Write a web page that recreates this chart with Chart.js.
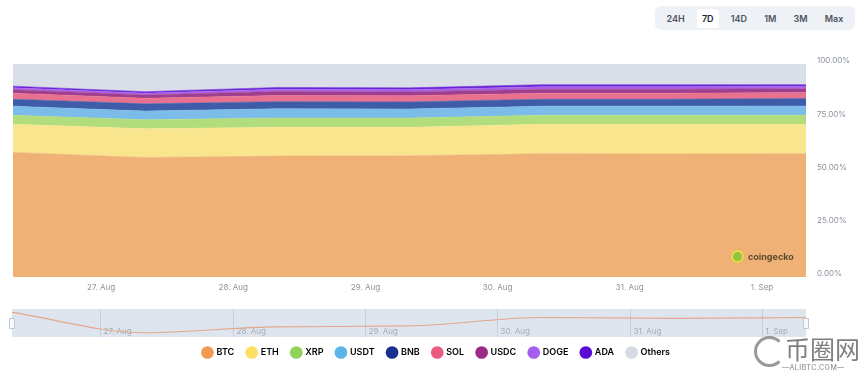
<!DOCTYPE html>
<html>
<head>
<meta charset="utf-8">
<script src="https://cdn.jsdelivr.net/npm/chart.js@4.4.1/dist/chart.umd.min.js"></script>
<style>
    html, body { margin: 0; padding: 0; background: #fff; }
    body { width: 860px; height: 373px; position: relative; overflow: hidden; font-family: Inter, "Noto Sans", sans-serif; }
    #main-wrap { position: absolute; left: 0; top: 0; width: 860px; height: 373px; }
    #nav-wrap { position: absolute; left: 0; top: 306px; width: 860px; height: 34px; }
    .ranges { position: absolute; left: 655px; top: 6px; width: 200px; height: 24px; background: #eef1f5; border-radius: 6px; display: flex; align-items: center; justify-content: space-around; padding: 0 3px; box-sizing: border-box; }
    .ranges span { font-size: 9px; font-weight: 600; color: #4b5160; padding: 4px 5px; border-radius: 4px; }
    .ranges span.on { background: #fff; color: #22252c; }
    .gecko { position: absolute; left: 731px; top: 250px; display: flex; align-items: center; gap: 4px; font-size: 9px; font-weight: 700; color: #5a4a2e; }
    .gecko i { width: 13px; height: 13px; border-radius: 50%; background: #8dc63f; box-shadow: 0 0 0 2px #f5d74a inset; display: block; }
    .mark { position: absolute; left: 754px; top: 334px; color: rgba(95,95,95,0.8); }
    .mark .ring { position: absolute; left: 0; top: 2px; width: 31px; height: 31px; border: 3px solid rgba(110,110,110,0.7); border-right-color: transparent; border-radius: 50%; box-sizing: border-box; }
    .mark .cn { position: absolute; left: 31px; top: -1px; font-family: "Noto Sans CJK SC"; font-size: 25px; line-height: 30px; white-space: nowrap; }
    .mark .en { position: absolute; left: 28px; top: 29px; font-size: 7px; white-space: nowrap; letter-spacing: 0.5px; }
</style>
</head>
<body>
<div id="main-wrap"><canvas id="dominance-chart"></canvas></div>
<div id="nav-wrap"><canvas id="navigator-chart"></canvas></div>
<div class="ranges"><span>24H</span><span class="on">7D</span><span>14D</span><span>1M</span><span>3M</span><span>Max</span></div>
<div class="gecko"><i></i>coingecko</div>
<div class="mark"><div class="ring"></div><div class="cn">币圈网</div><div class="en">—ALIBTC.COM—</div></div>
<script>
// hours counted from 26 Aug 00:00
const pointHours = [8, 32, 56, 80, 104, 128, 152];
const tickHours = [24, 48, 72, 96, 120, 144];
const tickLabels = ['27. Aug', '28. Aug', '29. Aug', '30. Aug', '31. Aug', '1. Sep'];
const yTicks = [0, 25, 50, 75, 100];

// market share in %
const btc = [58.5, 56.1, 56.8, 56.9, 57.9, 57.8, 57.9];
const eth = [13.2, 13.5, 13.5, 13.4, 13.8, 13.9, 13.8];
const xrp = [4.2, 4.2, 4.4, 4.3, 4.2, 4.2, 4.2];
const usdt = [4.3, 4.1, 4.3, 4.3, 4.3, 4.3, 4.4];
const bnb = [3.3, 3.4, 3.3, 3.3, 3.3, 3.3, 3.5];
const sol = [2.8, 2.6, 2.9, 2.9, 2.8, 2.8, 2.8];
const usdc = [1.6, 1.6, 1.9, 1.8, 1.9, 1.9, 1.8];
const doge = [0.9, 0.8, 1.0, 1.0, 1.1, 1.1, 1.0];
const ada = [0.8, 0.7, 0.9, 0.9, 1.0, 1.0, 0.9];
const others = [10.4, 13.0, 11.0, 11.2, 9.7, 9.7, 9.7];

const seriesNames = ['BTC', 'ETH', 'XRP', 'USDT', 'BNB', 'SOL', 'USDC', 'DOGE', 'ADA', 'Others'];
const seriesValues = [btc, eth, xrp, usdt, bnb, sol, usdc, doge, ada, others];
const areaColors = ['#f0b176', '#f9e58e', '#b1dd7d', '#7bbde8', '#3f5ca9', '#e8718f', '#a03e8e', '#a862e8', '#6a24d8', '#d9dee8'];
const dotColors = ['#f09a52', '#fbe062', '#8fd35a', '#5cb6ea', '#1b2f8f', '#ea5b82', '#9a2a86', '#a55ef0', '#5b0ad6', '#d5dae3'];

const axisColor = '#8b919d';

// turn a list of values into x/y points
function toPoints(values) {
    return values.map((v, i) => ({ x: pointHours[i], y: v }));
}

function setTicks(list) {
    return function(scale) {
        scale.ticks = list.map(v => ({ value: v }));
    };
}

const mainDatasets = seriesNames.map((name, i) => ({
    label: name,
    data: toPoints(seriesValues[i]),
    backgroundColor: areaColors[i],
    borderColor: areaColors[i],
    borderWidth: 0.5,
    pointRadius: 0,
    tension: 0,
    fill: i === 0 ? 'origin' : '-1'
}));

new Chart(document.getElementById('dominance-chart'), {
    type: 'line',
    data: { datasets: mainDatasets },
    options: {
        responsive: true,
        maintainAspectRatio: false,
        animation: false,
        layout: { padding: { left: 13, top: 64, right: 0, bottom: 6 } },
        plugins: {
            tooltip: { enabled: false },
            legend: {
                position: 'bottom',
                onClick: null,
                labels: {
                    usePointStyle: true,
                    boxWidth: 9,
                    boxHeight: 9,
                    padding: 13,
                    color: '#3d424d',
                    font: { family: 'Inter', size: 9, weight: '600' },
                    generateLabels: function() {
                        return seriesNames.map((name, i) => ({
                            text: name,
                            fillStyle: dotColors[i],
                            strokeStyle: dotColors[i],
                            lineWidth: 0,
                            pointStyle: 'circle',
                            datasetIndex: i
                        }));
                    }
                }
            }
        },
        scales: {
            x: {
                type: 'linear',
                min: pointHours[0],
                max: pointHours[pointHours.length - 1],
                afterBuildTicks: setTicks(tickHours),
                afterFit: function(s) { s.height = 58; },
                grid: { display: false, drawTicks: false },
                border: { display: false },
                ticks: {
                    padding: 6,
                    maxRotation: 0,
                    color: axisColor,
                    font: { family: 'Inter', size: 8 },
                    callback: function(v) { return tickLabels[tickHours.indexOf(v)]; }
                }
            },
            y: {
                position: 'right',
                stacked: true,
                min: 0,
                max: 100,
                afterBuildTicks: setTicks(yTicks),
                afterFit: function(s) { s.width = 54; },
                grid: { display: false, drawTicks: false },
                border: { display: false },
                ticks: {
                    padding: 11,
                    labelOffset: -3,
                    color: axisColor,
                    font: { family: 'Inter', size: 8 },
                    callback: function(v) { return v.toFixed(2) + '%'; }
                }
            }
        }
    }
});

// navigator strip under the main chart
const navigatorBackground = {
    id: 'navigatorBackground',
    beforeDatasetsDraw: function(chart) {
        const { ctx, chartArea, scales } = chart;
        ctx.save();
        ctx.fillStyle = '#dfe5ef';
        ctx.fillRect(chartArea.left, chartArea.top, chartArea.right - chartArea.left, chartArea.bottom - chartArea.top);
        ctx.strokeStyle = '#c6cedc';
        ctx.lineWidth = 1;
        ctx.fillStyle = '#a3abb9';
        ctx.font = '8px Inter';
        ctx.textBaseline = 'bottom';
        tickHours.forEach((h, i) => {
            const x = Math.round(scales.x.getPixelForValue(h)) + 0.5;
            ctx.beginPath();
            ctx.moveTo(x, chartArea.top);
            ctx.lineTo(x, chartArea.bottom);
            ctx.stroke();
            ctx.fillText(tickLabels[i], x + 3, chartArea.bottom - 1);
        });
        ctx.restore();
    },
    afterDraw: function(chart) {
        const { ctx, chartArea } = chart;
        ctx.save();
        ctx.fillStyle = '#f7f8fa';
        ctx.strokeStyle = '#c2c8d2';
        [chartArea.left - 3, chartArea.right - 3].forEach(x => {
            ctx.beginPath();
            ctx.rect(x + 0.5, chartArea.top + 9.5, 5, 10);
            ctx.fill();
            ctx.stroke();
        });
        ctx.restore();
    }
};

new Chart(document.getElementById('navigator-chart'), {
    type: 'line',
    data: {
        datasets: [{
            data: toPoints(btc),
            borderColor: '#e3a88c',
            borderWidth: 1.2,
            pointRadius: 0,
            cubicInterpolationMode: 'monotone',
            fill: false
        }]
    },
    options: {
        responsive: true,
        maintainAspectRatio: false,
        animation: false,
        layout: { padding: { left: 12, right: 54, top: 3, bottom: 3 } },
        plugins: { legend: { display: false }, tooltip: { enabled: false } },
        scales: {
            x: { type: 'linear', display: false, min: pointHours[0], max: pointHours[pointHours.length - 1] },
            y: { display: false, min: 55.6, max: 58.9 }
        }
    },
    plugins: [navigatorBackground]
});
</script>
</body>
</html>
